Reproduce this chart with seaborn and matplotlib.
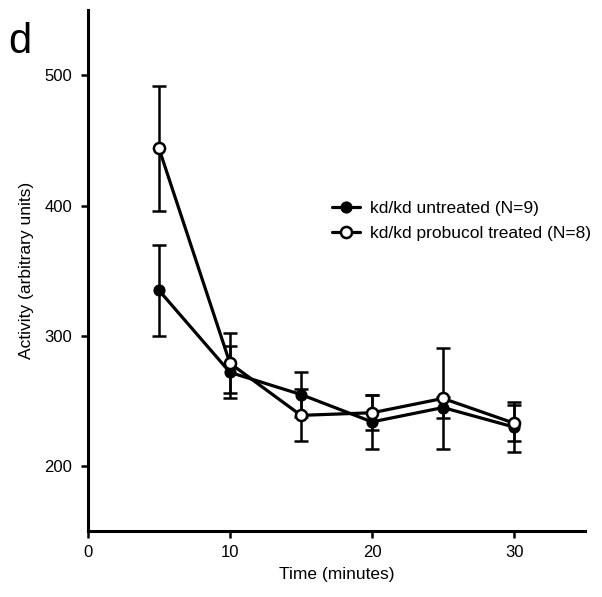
import numpy as np
import pandas as pd
import matplotlib
matplotlib.use("Agg")
import matplotlib.pyplot as plt
import seaborn as sns

sns.set_style("ticks")
plt.rcParams['font.family'] = ['Liberation Sans', 'DejaVu Sans']
plt.rcParams['text.color'] = 'black'
plt.rcParams['axes.labelcolor'] = 'black'
plt.rcParams['xtick.color'] = 'black'
plt.rcParams['ytick.color'] = 'black'

# values (mean +/- error bar half-length)
time_min = [5, 10, 15, 20, 25, 30]
untreated_mean = [335, 272, 255, 234, 245, 230]
untreated_err = [35, 20, 17, 20.5, 8, 19]
probucol_mean = [444, 279, 239, 241, 252, 233]
probucol_err = [48, 23, 20, 13.5, 39, 14]

label_untreated = "kd/kd untreated (N=9)"
label_probucol = "kd/kd probucol treated (N=8)"

df = pd.DataFrame({
    "Time": time_min * 2,
    "Activity": untreated_mean + probucol_mean,
    "Group": [label_untreated] * len(time_min) + [label_probucol] * len(time_min),
})

fig = plt.figure(figsize=(6.02, 5.97), dpi=100)
ax = fig.add_axes([0.146, 0.11, 0.826, 0.873])

# error bars first so the markers sit on top
ax.errorbar(time_min, untreated_mean, yerr=untreated_err, fmt='none',
            ecolor='black', elinewidth=1.8, capsize=5, capthick=1.8, zorder=2)
ax.errorbar(time_min, probucol_mean, yerr=probucol_err, fmt='none',
            ecolor='black', elinewidth=1.8, capsize=5, capthick=1.8, zorder=2)

sns.lineplot(data=df[df.Group == label_untreated], x="Time", y="Activity",
             color='black', lw=2.3, marker='o', markersize=8,
             markerfacecolor='black', markeredgecolor='black',
             label=label_untreated, ax=ax, zorder=3)
sns.lineplot(data=df[df.Group == label_probucol], x="Time", y="Activity",
             color='black', lw=2.3, marker='o', markersize=8,
             markerfacecolor='white', markeredgecolor='black', markeredgewidth=1.8,
             label=label_probucol, ax=ax, zorder=4)

ax.set_xlim(0, 35)
ax.set_ylim(150, 550)
ax.set_xticks([0, 10, 20, 30])
ax.set_yticks([200, 300, 400, 500])
ax.set_xlabel("Time (minutes)", fontsize=12.5, labelpad=5)
ax.set_ylabel("Activity (arbitrary units)", fontsize=12.5, labelpad=7)
ax.tick_params(axis='both', labelsize=12, width=1.8, length=5, direction='out')
ax.tick_params(axis='y', pad=6.5)
ax.tick_params(axis='x', pad=5)

for side in ['top', 'right']:
    ax.spines[side].set_visible(False)
for side in ['left', 'bottom']:
    ax.spines[side].set_linewidth(2.2)
    ax.spines[side].set_color('black')

ax.legend(loc='center left', bbox_to_anchor=(0.491, 0.596), frameon=False,
          fontsize=12.5, handlelength=1.6, handletextpad=0.6, labelspacing=0.58,
          borderpad=0, borderaxespad=0)

fig.text(0.013, (597 - 53) / 597, "d", fontsize=30, ha='left', va='baseline')

fig.savefig("out.png", dpi=100)
